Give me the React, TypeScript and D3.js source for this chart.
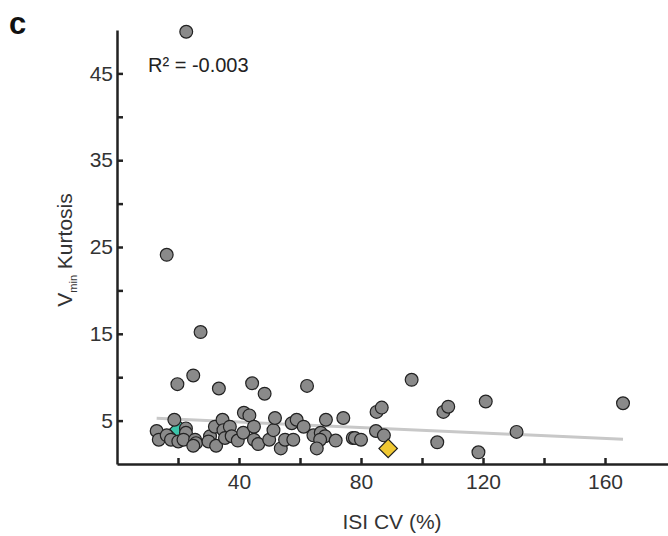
import React, { useEffect, useRef } from "react";
import * as d3 from "d3";

// ISI CV (%) values of the grey points
const cvValues = [
  22.7, 16.3, 27.4,
  19.8, 25.0, 33.4, 44.3, 48.4, 62.3,
  13.0, 13.7, 18.8, 16.3, 17.7, 20.1, 22.6, 22.6, 21.8, 25.6, 25.9, 25.0,
  30.5, 30.0, 32.1, 32.5, 34.6, 34.9, 35.4, 37.0, 37.6, 39.6, 41.4, 41.6,
  43.4, 44.9, 44.9, 46.3, 49.9, 51.3, 51.8, 53.7, 55.1, 57.8, 57.3, 58.9,
  61.2, 64.4, 66.8, 68.2, 66.6, 65.5, 68.5, 71.7, 74.2, 77.3, 78.0, 80.0,
  84.9, 85.1, 86.8, 87.5, 96.6, 105.0, 107.0, 108.6, 118.5, 120.9, 131.0, 165.9,
];
// Vmin kurtosis values of the grey points
const kurtValues = [
  49.8, 24.1, 15.2,
  9.2, 10.2, 8.7, 9.3, 8.1, 9.0,
  3.8, 2.8, 5.1, 3.3, 2.8, 2.6, 4.1, 3.6, 2.8, 2.8, 2.4, 2.1,
  3.2, 2.6, 4.3, 2.1, 5.1, 3.9, 3.0, 4.3, 3.2, 2.7, 3.6, 5.9,
  5.6, 4.3, 2.8, 2.3, 2.8, 3.9, 5.3, 1.8, 2.8, 2.8, 4.7, 5.1,
  4.3, 3.3, 3.6, 3.2, 2.8, 1.8, 5.1, 2.7, 5.3, 3.0, 3.0, 2.8,
  3.8, 6.0, 6.5, 3.3, 9.7, 2.5, 6.0, 6.6, 1.35, 7.2, 3.7, 7.0,
];
// highlighted cells (diamonds)
const tealCell = { cv: 20.3, kurt: 4.0 };
const yellowCell = { cv: 88.9, kurt: 1.8 };
// regression line
const fitIntercept = 5.47;
const fitSlope = -0.0158;
const fitRange = [13.0, 165.9];

const xTicks = [20, 40, 60, 80, 100, 120, 140, 160];
const xLabelled = [40, 80, 120, 160];
const yTicks = [5, 10, 15, 20, 25, 30, 35, 40, 45];
const yLabelled = [5, 15, 25, 35, 45];

const W = 668;
const H = 536;
const FONT = "'Liberation Sans', Arial, sans-serif";

export default function App() {
  const ref = useRef<SVGSVGElement>(null);

  useEffect(() => {
    const svg = d3.select(ref.current);
    svg.selectAll("*").remove();

    const x = d3.scaleLinear().domain([0, 180.65]).range([117, 668]);
    const y = d3.scaleLinear().domain([0, 50]).range([464, 30]);

    // regression line
    svg
      .append("line")
      .attr("x1", x(fitRange[0]))
      .attr("y1", y(fitIntercept + fitSlope * fitRange[0]))
      .attr("x2", x(fitRange[1]))
      .attr("y2", y(fitIntercept + fitSlope * fitRange[1]))
      .attr("stroke", "#c8c8c8")
      .attr("stroke-width", 3);

    const square = d3.symbol().type(d3.symbolSquare).size(170);

    // teal diamond (mostly hidden)
    svg
      .append("path")
      .attr("d", square())
      .attr("transform", `translate(${x(tealCell.cv)},${y(tealCell.kurt)}) rotate(45)`)
      .attr("fill", "#3cc4aa")
      .attr("stroke", "#222")
      .attr("stroke-width", 1.2);

    const data = cvValues.map((cv, i) => ({ cv, k: kurtValues[i] }));
    svg
      .append("g")
      .selectAll("circle")
      .data(data)
      .join("circle")
      .attr("cx", (d) => x(d.cv))
      .attr("cy", (d) => y(d.k))
      .attr("r", 6.4)
      .attr("fill", "#8a8a8a")
      .attr("stroke", "#222")
      .attr("stroke-width", 1.2);

    svg
      .append("path")
      .attr("d", square())
      .attr("transform", `translate(${x(yellowCell.cv)},${y(yellowCell.kurt)}) rotate(45)`)
      .attr("fill", "#f0c832")
      .attr("stroke", "#222")
      .attr("stroke-width", 1.2);

    // axes
    const xAxis = d3
      .axisBottom(x)
      .tickValues(xTicks)
      .tickSize(-6)
      .tickSizeOuter(0)
      .tickPadding(10)
      .tickFormat((d) => (xLabelled.includes(d as number) ? String(d) : ""));
    const gx = svg.append("g").attr("transform", `translate(0,${y(0)})`).call(xAxis);

    const yAxis = d3
      .axisLeft(y)
      .tickValues(yTicks)
      .tickSize(-6)
      .tickSizeOuter(0)
      .tickPadding(4)
      .tickFormat((d) => (yLabelled.includes(d as number) ? String(d) : ""));
    const gy = svg.append("g").attr("transform", `translate(${x(0)},0)`).call(yAxis);

    [gx, gy].forEach((g) => {
      g.select(".domain").attr("stroke", "#222").attr("stroke-width", 2.5);
      g.selectAll(".tick line").attr("stroke", "#222").attr("stroke-width", 2.5);
      g.selectAll(".tick text")
        .attr("fill", "#333")
        .style("font-family", FONT)
        .style("font-size", "21px");
    });

    // axis titles
    svg
      .append("text")
      .attr("x", 392)
      .attr("y", 529)
      .attr("text-anchor", "middle")
      .attr("fill", "#333")
      .style("font-family", FONT)
      .style("font-size", "21px")
      .text("ISI CV (%)");

    const yt = svg
      .append("text")
      .attr("transform", `translate(72,250) rotate(-90)`)
      .attr("text-anchor", "middle")
      .attr("fill", "#333")
      .style("font-family", FONT)
      .style("font-size", "21px");
    yt.append("tspan").text("V");
    yt.append("tspan").attr("dy", 5).style("font-size", "11px").text("min");
    yt.append("tspan").attr("dy", -5).text(" Kurtosis");

    // R2 annotation
    svg
      .append("text")
      .attr("x", 148)
      .attr("y", 72)
      .attr("fill", "#222")
      .style("font-family", FONT)
      .style("font-size", "20px")
      .text("R² = -0.003");

    // panel letter
    svg
      .append("text")
      .attr("x", 9)
      .attr("y", 34)
      .attr("fill", "#111")
      .style("font-family", FONT)
      .style("font-size", "31px")
      .style("font-weight", "bold")
      .text("c");
  }, []);

  return (
    <svg
      ref={ref}
      width={W}
      height={H}
      style={{ position: "absolute", left: 0, top: 0, background: "#fff" }}
    />
  );
}
